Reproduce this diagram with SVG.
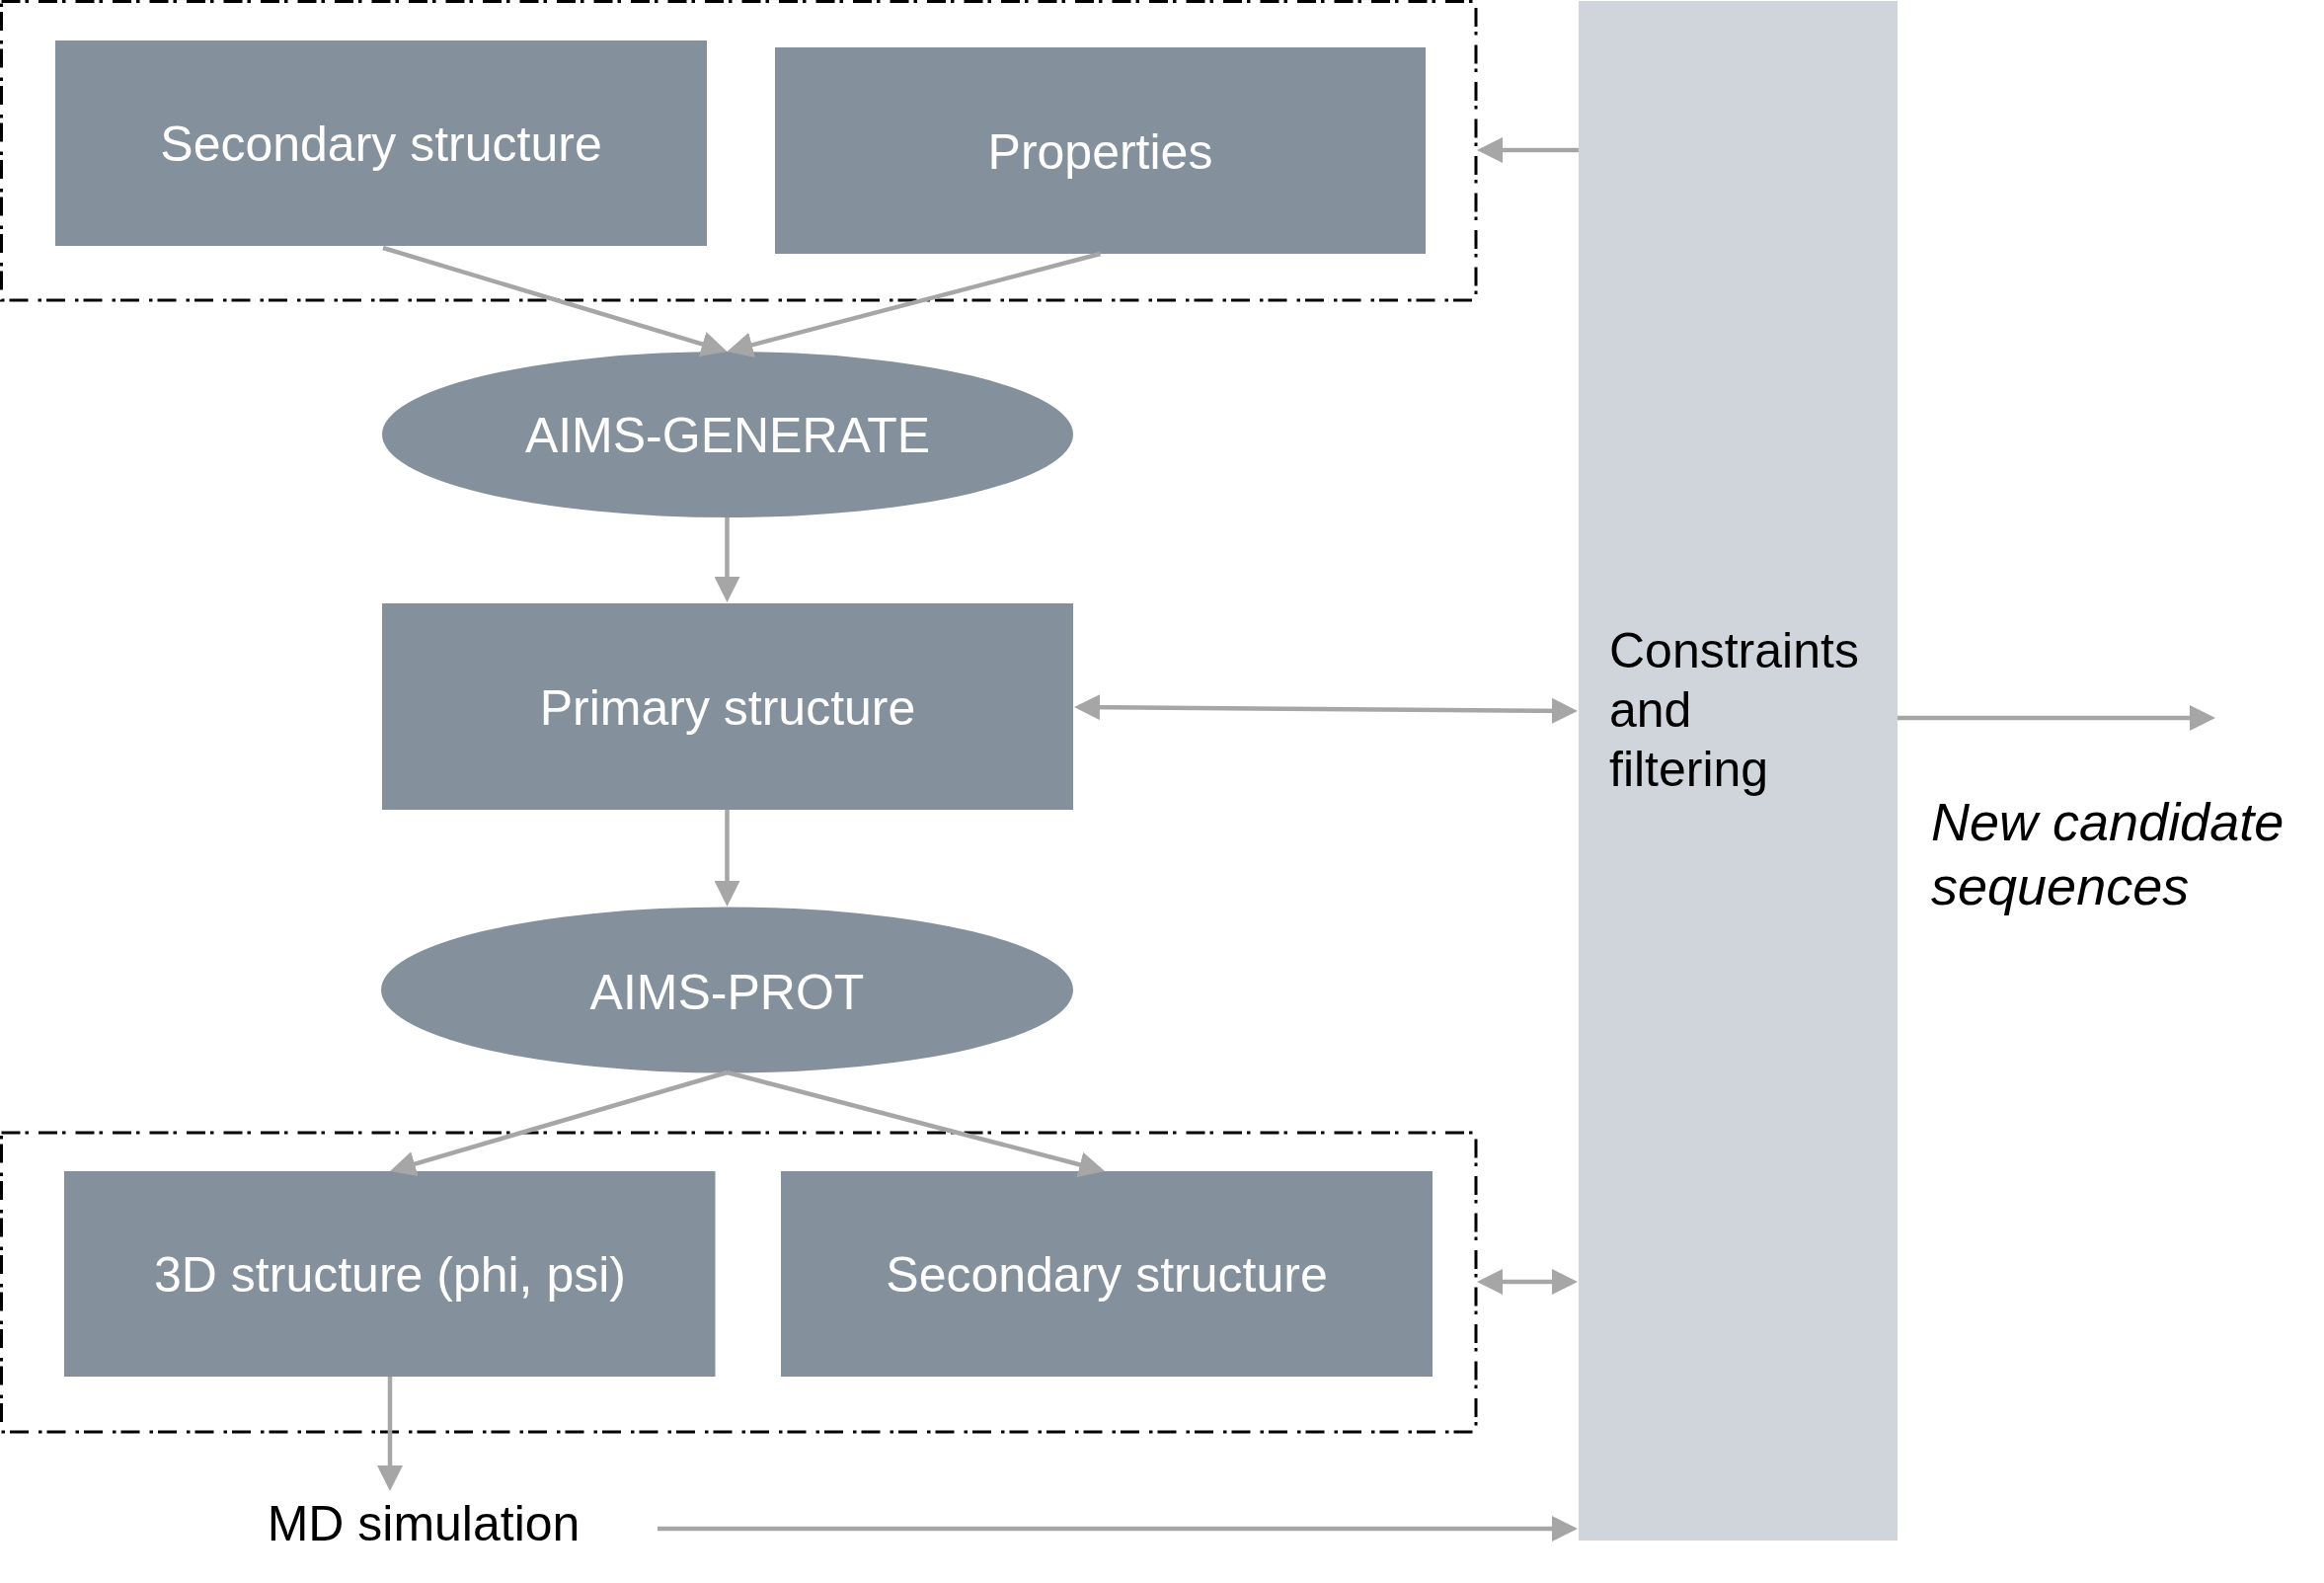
<svg xmlns="http://www.w3.org/2000/svg" width="2354" height="1603" viewBox="0 0 2354 1603">
  <defs>
    <style>
      .box { fill: #84919C; }
      .panel { fill: #CFD5DA; }
      .group { fill: none; stroke: #000000; stroke-width: 3; stroke-dasharray: 19 5 3.5 10; }
      .lbl { font-family: "Liberation Sans", Arial, sans-serif; font-size: 50px; fill: #FFFFFF; text-anchor: middle; }
      .blk { font-family: "Liberation Sans", Arial, sans-serif; font-size: 50px; fill: #000000; }
      .ital { font-family: "Liberation Sans", Arial, sans-serif; font-size: 54px; font-style: italic; fill: #000000; }
      .conn { stroke: #A6A6A6; stroke-width: 4.5; fill: none; }
    </style>
    <marker id="ah" markerUnits="userSpaceOnUse" markerWidth="26" markerHeight="26" refX="21" refY="13" orient="auto-start-reverse">
      <path d="M0,0 L26,13 L0,26 Z" fill="#A6A6A6"/>
    </marker>
  </defs>
  <rect width="2354" height="1603" fill="#FFFFFF"/>

  <g id="panel-constraints">
    <rect class="panel" x="1599" y="1" width="323" height="1559"/>
    <text class="blk" x="1630" y="676">Constraints</text>
    <text class="blk" x="1630" y="736">and</text>
    <text class="blk" x="1630" y="796">filtering</text>
  </g>

  <g id="group-input">
    <rect class="group" x="1.5" y="1.5" width="1493.5" height="302.5"/>
  </g>
  <g id="group-output">
    <rect class="group" x="1.5" y="1147" width="1493.5" height="303"/>
  </g>

  <g id="node-secondary-in">
    <rect class="box" x="56" y="41" width="660" height="208"/>
    <text class="lbl" x="386" y="163">Secondary structure</text>
  </g>
  <g id="node-properties">
    <rect class="box" x="785" y="48" width="659" height="209"/>
    <text class="lbl" x="1114.5" y="170.5">Properties</text>
  </g>
  <g id="node-aims-generate">
    <ellipse class="box" cx="737" cy="440" rx="350" ry="84"/>
    <text class="lbl" x="737" y="458">AIMS-GENERATE</text>
  </g>
  <g id="node-primary">
    <rect class="box" x="387" y="611" width="700" height="209"/>
    <text class="lbl" x="737" y="733.5">Primary structure</text>
  </g>
  <g id="node-aims-prot">
    <ellipse class="box" cx="736.5" cy="1002.5" rx="350.5" ry="84"/>
    <text class="lbl" x="736.5" y="1021.5">AIMS-PROT</text>
  </g>
  <g id="node-3d">
    <rect class="box" x="65" y="1186" width="659.5" height="208"/>
    <text class="lbl" x="395" y="1308">3D structure (phi, psi)</text>
  </g>
  <g id="node-secondary-out">
    <rect class="box" x="791" y="1186" width="660" height="208"/>
    <text class="lbl" x="1121" y="1308">Secondary structure</text>
  </g>
  <g id="node-md">
    <text class="blk" x="429" y="1560" text-anchor="middle">MD simulation</text>
  </g>
  <g id="node-output">
    <text class="ital" x="1956" y="851">New candidate</text>
    <text class="ital" x="1956" y="916">sequences</text>
  </g>

  <g id="connectors">
    <line class="conn" x1="388" y1="251" x2="731.7" y2="354.6" marker-end="url(#ah)"/>
    <line class="conn" x1="1114.5" y1="257" x2="741.3" y2="354.7" marker-end="url(#ah)"/>
    <line class="conn" x1="1599" y1="152" x2="1501" y2="152" marker-end="url(#ah)"/>
    <line class="conn" x1="736.5" y1="524" x2="736.5" y2="605" marker-end="url(#ah)"/>
    <line class="conn" x1="1093" y1="716" x2="1593" y2="720" marker-start="url(#ah)" marker-end="url(#ah)"/>
    <line class="conn" x1="736.5" y1="820" x2="736.5" y2="913" marker-end="url(#ah)"/>
    <line class="conn" x1="736.5" y1="1086" x2="399.8" y2="1184.6" marker-end="url(#ah)"/>
    <line class="conn" x1="736.5" y1="1086" x2="1114.2" y2="1184.7" marker-end="url(#ah)"/>
    <line class="conn" x1="395" y1="1394" x2="395" y2="1505" marker-end="url(#ah)"/>
    <line class="conn" x1="1501" y1="1298" x2="1593" y2="1298" marker-start="url(#ah)" marker-end="url(#ah)"/>
    <line class="conn" x1="666" y1="1548" x2="1593" y2="1548" marker-end="url(#ah)"/>
    <line class="conn" x1="1922" y1="727" x2="2239" y2="727" marker-end="url(#ah)"/>
  </g>
</svg>
